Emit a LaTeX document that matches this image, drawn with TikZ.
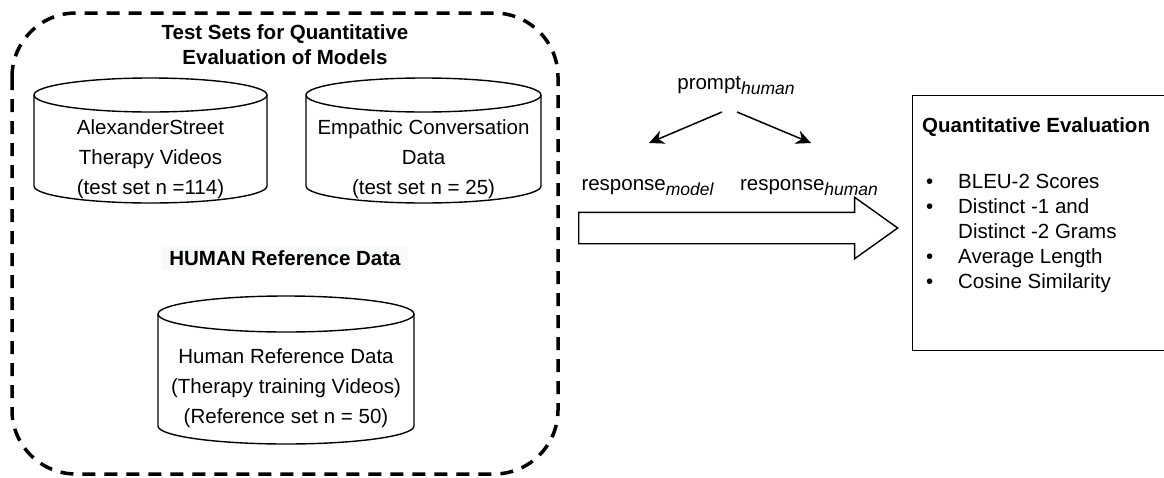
\documentclass[tikz,border=0pt]{standalone}
\usepackage{fontspec}
\setmainfont{Liberation Sans}
\usepackage{xcolor}
\usetikzlibrary{shapes.arrows,arrows.meta,calc}

\definecolor{labelbg}{RGB}{248,249,250}
\newcommand{\lowsub}[1]{\raisebox{-5pt}{\fontsize{17.5}{17.5}\selectfont\itshape #1}}

\tikzset{
	cylline/.style={line width=1.4pt},
	cyltext/.style={align=center, inner sep=0pt, font=\fontsize{20.5}{30}\selectfont},
	headtext/.style={align=center, inner sep=0pt, font=\bfseries\fontsize{20.5}{25}\selectfont},
	plaintext/.style={inner sep=0pt, font=\fontsize{20.5}{25}\selectfont},
	fork/.style={-{Stealth[length=15pt,width=14pt]}, line width=1.5pt},
}

\begin{document}
\begin{tikzpicture}[x=1pt,y=-1pt]
				\useasboundingbox (0,0) rectangle (1164,477);

				% test sets
				\draw [line width=3.5pt, dash pattern=on 13pt off 9pt, rounded corners=64pt] (12,13) rectangle (558,474);
				\node (settitle) [headtext] at (285,44.5) {Test Sets for Quantitative\\Evaluation of Models};

				% cylinders: centre x / top y / width / height / cap radius
				\foreach \cx/\ty/\w/\h/\ry in {150.5/78/233/125/17, 423.5/78/235/125/17, 286/296/256/148/18} {
					\draw [cylline] (\cx,\ty+\ry) ellipse [x radius=\w*0.5pt, y radius=\ry*1pt];
					\draw [cylline] (\cx-\w/2,\ty+\ry) -- (\cx-\w/2,\ty+\h-\ry)
						arc [start angle=180, end angle=360, x radius=\w*0.5pt, y radius=\ry*1pt] -- (\cx+\w/2,\ty+\ry);
				}
				\node (alextext) [cyltext] at (150.5,159) {AlexanderStreet\\Therapy Videos\\(test set n =114)};
				\node (emptext) [cyltext] at (423.5,159) {Empathic Conversation\\Data\\(test set n = 25)};
				\node (humantitle) [headtext, fill=labelbg, minimum width=246pt, minimum height=23pt] at (285,258.5) {HUMAN Reference Data};
				\node (humantext) [cyltext] at (286,388) {Human Reference Data\\(Therapy training Videos)\\(Reference set n = 50)};

				% prompt and responses
				\node (prompt) [plaintext] at (736,85) {prompt\lowsub{human}};
				\node (respmodel) [plaintext] at (647.5,188) {response\lowsub{model}};
				\node (resphuman) [plaintext] at (809,188) {response\lowsub{human}};
				\draw [fork] ($(prompt)+(-14,27)$) -- ($(respmodel)+(1.5,-45)$);
				\draw [fork] ($(prompt)+(1,27)$) -- ($(resphuman)+(2,-45)$);

				\node (bigarrow) [single arrow, draw, line width=1.4pt, inner xsep=0pt, inner ysep=15pt,
					minimum height=319pt, single arrow head extend=15pt, single arrow tip angle=71,
					anchor=tail] at (578,228) {};

				% evaluation
				\node (evalbox) [draw, line width=1.4pt, anchor=north west, inner sep=0pt,
					minimum width=262pt, minimum height=255pt] at (912,95) {};
				\node (evaltitle) [headtext, anchor=west] at (922,127) {Quantitative Evaluation};
				\node (evallist) [plaintext, anchor=north west] at (926,171) {%
					\begin{tabular}{@{}p{32pt}@{}l@{}}
					\textbullet & BLEU-2 Scores\\
					\textbullet & Distinct -1 and\\
					& Distinct -2 Grams\\
					\textbullet & Average Length\\
					\textbullet & Cosine Similarity
					\end{tabular}};
			\end{tikzpicture}
\end{document}
